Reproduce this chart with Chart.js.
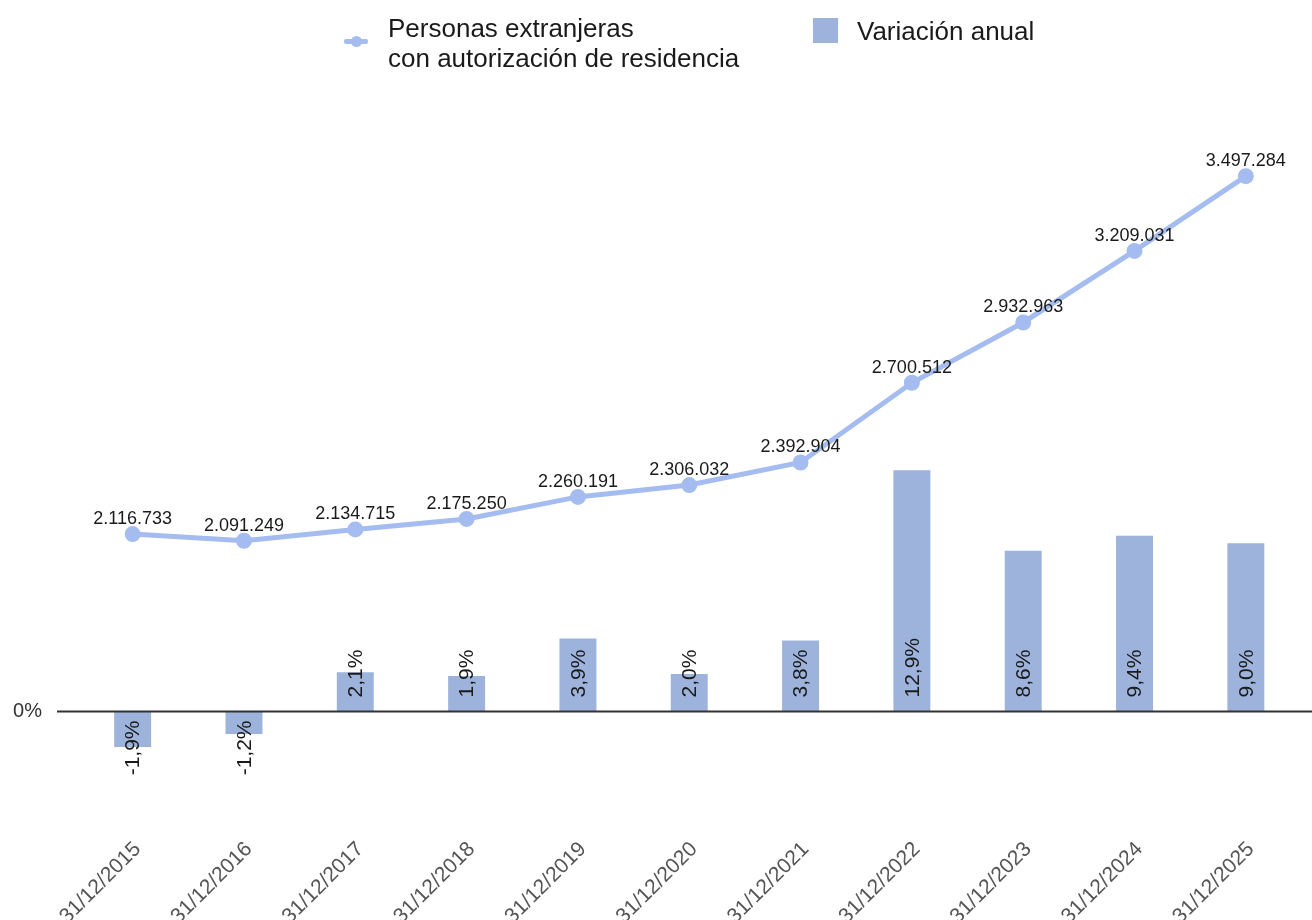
<!DOCTYPE html>
<html lang="es">
<head>
<meta charset="utf-8">
<title>Personas extranjeras con autorización de residencia</title>
<script src="https://cdn.jsdelivr.net/npm/chart.js@4.4.1/dist/chart.umd.min.js"></script>
<style>
  html, body { margin:0; padding:0; background:#fff; overflow:hidden; }
  body { width:1312px; height:920px; position:relative; font-family:'Liberation Sans', Arial, sans-serif; }
  #wrap { position:absolute; left:0; top:0; width:1312px; height:1000px; }
  .legend { position:absolute; color:#1a1a1a; font-size:26px; line-height:30px; }
  .mk-line { position:absolute; left:344px; top:39px; width:24px; height:5px; background:#a4bcf0; border-radius:2px; }
  .mk-line::after { content:''; position:absolute; left:7px; top:-3px; width:11px; height:11px; border-radius:50%; background:#a4bcf0; }
  .mk-bar { position:absolute; left:813px; top:18px; width:25px; height:25px; background:#9db3dc; }
</style>
</head>
<body>
<div id="wrap"><canvas id="chart"></canvas></div>
<span class="mk-line"></span>
<div class="legend" style="left:388px; top:13px;">Personas extranjeras<br>con autorización de residencia</div>
<span class="mk-bar"></span>
<div class="legend" style="left:857px; top:16px;">Variación anual</div>
<script>
// ---------- datos ----------
const LABELS   = ['31/12/2015','31/12/2016','31/12/2017','31/12/2018','31/12/2019','31/12/2020',
                  '31/12/2021','31/12/2022','31/12/2023','31/12/2024','31/12/2025'];
const PERSONAS = [2116733, 2091249, 2134715, 2175250, 2260191, 2306032, 2392904, 2700512, 2932963, 3209031, 3497284];
const VARIACION = [-1.9, -1.2, 2.1, 1.9, 3.9, 2.0, 3.8, 12.9, 8.6, 9.4, 9.0];

const LINE_COLOR = '#a4bcf0';
const BAR_COLOR  = '#9db3dc';
const FONT = "'Liberation Sans', Arial, sans-serif";

// 2116733 -> "2.116.733"
const miles = n => String(Math.round(n)).replace(/\B(?=(\d{3})+(?!\d))/g, '.');
const pct   = v => v.toFixed(1).replace('.', ',') + '%';

// línea base del 0% (algo más ancha que el área del gráfico)
const zeroLine = {
  id:'zeroLine',
  afterDatasetsDraw(chart){
    const {ctx} = chart;
    const y = chart.scales.y.getPixelForValue(0);
    ctx.save();
    ctx.strokeStyle = '#333';
    ctx.lineWidth = 2;
    ctx.beginPath();
    ctx.moveTo(57, y);
    ctx.lineTo(chart.width, y);
    ctx.stroke();
    ctx.restore();
  }
};

// etiquetas de valores (sin plugin datalabels)
const valueLabels = {
  id:'valueLabels',
  afterDraw(chart){
    const {ctx} = chart;
    const zeroY = chart.scales.y.getPixelForValue(0);
    ctx.save();
    // barras: texto vertical desde la base
    ctx.font = '21px ' + FONT;
    ctx.fillStyle = '#1a1a1a';
    ctx.textBaseline = 'middle';
    chart.getDatasetMeta(1).data.forEach((bar, i) => {
      const v = VARIACION[i];
      ctx.save();
      if (v >= 0) {
        ctx.translate(bar.x, zeroY - 14);
        ctx.rotate(-Math.PI/2);
        ctx.textAlign = 'left';
      } else {
        ctx.translate(bar.x, zeroY + 9);
        ctx.rotate(-Math.PI/2);
        ctx.textAlign = 'right';
      }
      ctx.fillText(pct(v), 0, 1);
      ctx.restore();
    });
    // línea: valor encima del punto
    ctx.font = '18px ' + FONT;
    ctx.textAlign = 'center';
    ctx.textBaseline = 'middle';
    chart.getDatasetMeta(0).data.forEach((pt, i) => {
      ctx.fillText(miles(PERSONAS[i]), pt.x, pt.y - 15);
    });
    ctx.restore();
  }
};

new Chart(document.getElementById('chart'), {
  data: {
    labels: LABELS,
    datasets: [
      {
        type:'line', label:'Personas extranjeras con autorización de residencia',
        data: PERSONAS, yAxisID:'y2',
        borderColor: LINE_COLOR, backgroundColor: LINE_COLOR,
        borderWidth: 5, pointRadius: 5.5, pointHoverRadius: 5.5,
        tension: 0, clip: false, order: 0
      },
      {
        type:'bar', label:'Variación anual',
        data: VARIACION, yAxisID:'y',
        backgroundColor: BAR_COLOR, borderWidth: 0,
        categoryPercentage: 1, barPercentage: 0.332, order: 1
      }
    ]
  },
  options: {
    responsive:true, maintainAspectRatio:false, animation:false,
    layout:{ padding:{ top:100, right:10, left:0, bottom:0 } },
    plugins:{ legend:{ display:false }, tooltip:{ enabled:false } },
    scales:{
      x:{
        offset:true,
        grid:{ display:false, drawTicks:false },
        border:{ display:false },
        ticks:{ color:'#555', font:{ family:FONT, size:21 }, minRotation:45, maxRotation:45, autoSkip:false,
                padding:32, labelOffset:5 },
        afterFit(scale){ scale.height = 195; }
      },
      y:{
        min:-5, max:32.7,
        grid:{ display:false, drawTicks:false },
        border:{ display:false },
        ticks:{ stepSize:5, color:'#333', font:{ family:FONT, size:20 }, padding:35,
                callback: v => v === 0 ? '0%' : null },
        afterFit(scale){ scale.width = 77; }
      },
      y2:{
        display:false, min:1072000, max:3791000
      }
    }
  },
  plugins:[zeroLine, valueLabels]
});
</script>
</body>
</html>
